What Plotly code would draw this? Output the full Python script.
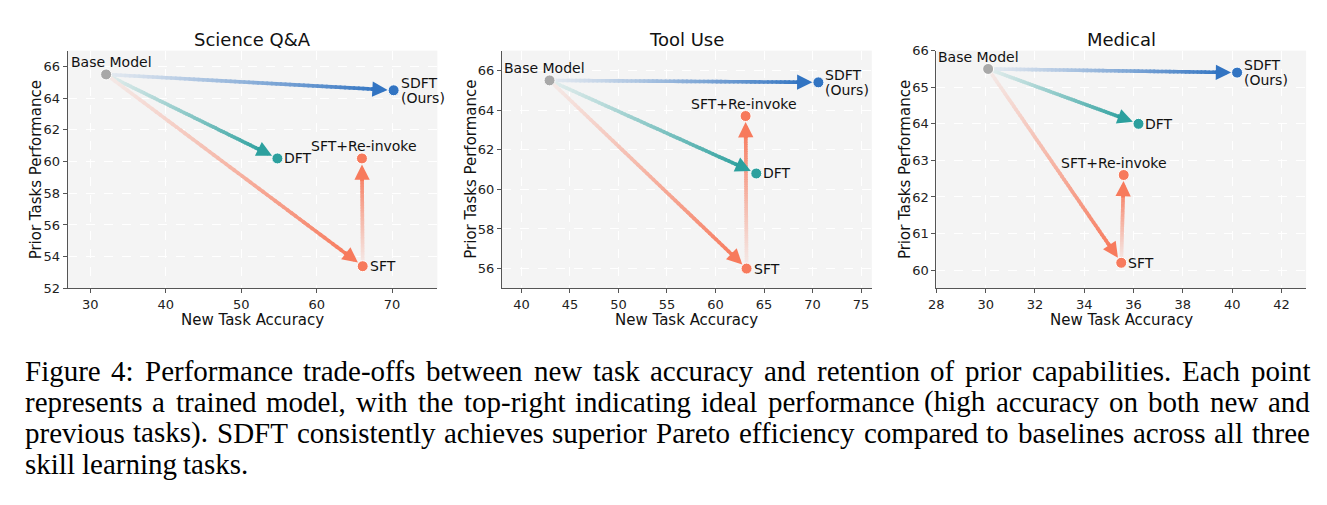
import plotly.graph_objects as go

# ------------------------------------------------------------------ data
panel_titles = ["Science Q&A", "Tool Use", "Medical"]
methods = ["Base Model", "SDFT", "DFT", "SFT", "SFT+Re-invoke"]

sci_new_acc = [32.1, 70.2, 54.8, 66.1, 66.0]
sci_prior = [65.5, 64.5, 60.2, 53.4, 60.2]
tool_new_acc = [42.9, 70.6, 64.2, 63.2, 63.1]
tool_prior = [65.5, 65.4, 60.8, 56.0, 63.7]
med_new_acc = [30.1, 40.2, 36.2, 35.5, 35.6]
med_prior = [65.5, 65.4, 64.0, 60.2, 62.6]

sci_xticks = [30, 40, 50, 60, 70]
sci_yticks = [52, 54, 56, 58, 60, 62, 64, 66]
tool_xticks = [40, 45, 50, 55, 60, 65, 70, 75]
tool_yticks = [56, 58, 60, 62, 64, 66]
med_xticks = [28, 30, 32, 34, 36, 38, 40, 42]
med_yticks = [60, 61, 62, 63, 64, 65, 66]

arrow_pairs = [("Base Model", "SDFT"), ("Base Model", "DFT"),
               ("Base Model", "SFT"), ("SFT", "SFT+Re-invoke")]

x_label = "New Task Accuracy"
y_label = "Prior Tasks Performance"

caption_lines = [
    "Figure 4: Performance trade-offs between new task accuracy and retention of prior capabilities. Each point",
    "represents a trained model, with the top-right indicating ideal performance (high accuracy on both new and",
    "previous tasks). SDFT consistently achieves superior Pareto efficiency compared to baselines across all three",
    "skill learning tasks.",
]

# ------------------------------------------------------------------ styling / geometry
W, H = 1327, 505
BG = "#f4f4f4"
colors = {"Base Model": "#a8a8a8", "SDFT": "#3274c2", "DFT": "#2ca09e",
          "SFT": "#f77a5c", "SFT+Re-invoke": "#f77a5c"}
panel_px = [(60, 432), (497, 869), (934, 1306)]
TOP, BOT = 45, 290
xranges = [(27, 76), (38, 76.1), (28, 43)]
yranges = [(52, 67), (55, 67), (59.5, 66)]
base_dx = [5, -5, -10]
reinv_dx = [2, -2, -10]

panels = [
    (sci_new_acc, sci_prior, sci_xticks, sci_yticks),
    (tool_new_acc, tool_prior, tool_xticks, tool_yticks),
    (med_new_acc, med_prior, med_xticks, med_yticks),
]


def to_px(i, x, y):
    x0, x1 = panel_px[i]
    a, b = xranges[i]
    c, d = yranges[i]
    return (x0 + (x - a) / (b - a) * (x1 - x0),
            BOT - (y - c) / (d - c) * (BOT - TOP))


def to_data(i, px, py):
    x0, x1 = panel_px[i]
    a, b = xranges[i]
    c, d = yranges[i]
    return (a + (px - x0) / (x1 - x0) * (b - a),
            c + (BOT - py) / (BOT - TOP) * (d - c))


def hex_rgb(h):
    h = h.lstrip("#")
    return tuple(int(h[k:k + 2], 16) for k in (0, 2, 4))


def blend(col, alpha):
    c = hex_rgb(col)
    b = hex_rgb(BG)
    r = [round(b[k] * (1 - alpha) + c[k] * alpha) for k in range(3)]
    return "rgb(%d,%d,%d)" % tuple(r)


fig = go.Figure()
annotations = []

for i, (xs, ys, xt, yt) in enumerate(panels):
    n = i + 1
    xr = "x" if n == 1 else f"x{n}"
    yr = "y" if n == 1 else f"y{n}"
    pts = {m: (xs[k], ys[k]) for k, m in enumerate(methods)}

    # gradient arrows
    for (src, dst) in arrow_pairs:
        col = colors[dst]
        ax_, ay_ = to_px(i, *pts[src])
        bx_, by_ = to_px(i, *pts[dst])
        dx, dy = bx_ - ax_, by_ - ay_
        L = (dx * dx + dy * dy) ** 0.5
        ux, uy = dx / L, dy / L
        ex, ey = bx_ - ux * 13, by_ - uy * 13
        N = 60
        for k in range(N):
            t0 = k / N
            t1 = min(1.0, (k + 1.4) / N)
            p0 = to_data(i, ax_ + (ex - ax_) * t0, ay_ + (ey - ay_) * t0)
            p1 = to_data(i, ax_ + (ex - ax_) * t1, ay_ + (ey - ay_) * t1)
            tm = (k + 0.5) / N
            alpha = 0.08 + 0.92 * tm ** 1.1
            fig.add_trace(go.Scatter(
                x=[p0[0], p1[0]], y=[p0[1], p1[1]], mode="lines",
                line=dict(color=blend(col, alpha), width=3.6),
                xaxis=xr, yaxis=yr, hoverinfo="skip", showlegend=False))
        annotations.append(dict(
            x=pts[dst][0], y=pts[dst][1], xref=xr, yref=yr,
            ax=-ux * 24, ay=-uy * 24, axref="pixel", ayref="pixel",
            showarrow=True, arrowhead=2, arrowsize=0.85, arrowwidth=3.6,
            arrowcolor=col, standoff=6, text=""))

    # markers
    fig.add_trace(go.Scatter(
        x=xs, y=ys, mode="markers",
        marker=dict(color=[colors[m] for m in methods], size=11,
                    line=dict(color="white", width=1)),
        xaxis=xr, yaxis=yr, hoverinfo="skip", showlegend=False))

    lab_font = dict(family="DejaVu Sans", size=14, color="#111")
    bx, by = pts["Base Model"]
    annotations.append(dict(x=bx, y=by, xref=xr, yref=yr, text="Base Model",
                            showarrow=False, xanchor="center", yanchor="middle",
                            xshift=base_dx[i], yshift=12, font=lab_font))
    sx, sy = pts["SDFT"]
    annotations.append(dict(x=sx, y=sy, xref=xr, yref=yr, text="SDFT",
                            showarrow=False, xanchor="left", yanchor="middle",
                            xshift=5, yshift=7.5, font=lab_font))
    annotations.append(dict(x=sx, y=sy, xref=xr, yref=yr, text="(Ours)",
                            showarrow=False, xanchor="left", yanchor="middle",
                            xshift=5, yshift=-7.5, font=lab_font))
    for m in ("DFT", "SFT"):
        mx, my = pts[m]
        annotations.append(dict(x=mx, y=my, xref=xr, yref=yr, text=m,
                                showarrow=False, xanchor="left", yanchor="middle",
                                xshift=5, yshift=0, font=lab_font))
    rx, ry = pts["SFT+Re-invoke"]
    annotations.append(dict(x=rx, y=ry, xref=xr, yref=yr, text="SFT+Re-invoke",
                            showarrow=False, xanchor="center", yanchor="middle",
                            xshift=reinv_dx[i], yshift=12, font=lab_font))

    # axes
    x0, x1 = panel_px[i]
    common = dict(showline=True, linecolor="#555", linewidth=1, mirror=False,
                  ticks="outside", ticklen=4, tickwidth=1, tickcolor="#555",
                  showgrid=True, gridcolor="white", griddash="dash", gridwidth=1,
                  zeroline=False,
                  tickfont=dict(family="DejaVu Sans", size=13, color="#222"))
    fig.update_layout(**{
        ("xaxis" if n == 1 else f"xaxis{n}"): dict(
            domain=[x0 / W, x1 / W], range=list(xranges[i]), tickvals=xt,
            anchor=yr, **common),
        ("yaxis" if n == 1 else f"yaxis{n}"): dict(
            domain=[1 - BOT / H, 1 - TOP / H], range=list(yranges[i]),
            tickvals=yt, anchor=xr, **common),
    })

    cx = (x0 + x1) / 2
    annotations.append(dict(x=cx / W, y=1 - 34 / H, xref="paper", yref="paper",
                            text=panel_titles[i], showarrow=False,
                            xanchor="center", yanchor="middle",
                            font=dict(family="DejaVu Sans", size=18, color="#111")))
    annotations.append(dict(x=cx / W, y=1 - 323 / H, xref="paper", yref="paper",
                            text=x_label, showarrow=False,
                            xanchor="center", yanchor="middle",
                            font=dict(family="DejaVu Sans", size=15, color="#111")))
    annotations.append(dict(x=(x0 - 32) / W, y=1 - ((TOP + BOT) / 2) / H,
                            xref="paper", yref="paper", text=y_label,
                            showarrow=False, textangle=-90,
                            xanchor="center", yanchor="middle",
                            font=dict(family="DejaVu Sans", size=15, color="#111")))

# ------------------------------------------------------------------ caption (justified)
times_w = {" ": 250, "!": 333, "(": 333, ")": 333, "+": 564, ",": 250, "-": 333,
           ".": 250, ":": 278}
times_w.update({d: 500 for d in "0123456789"})
times_w.update(dict(zip("ABCDEFGHIJKLMNOPQRSTUVWXYZ",
                        [722, 667, 667, 722, 611, 556, 722, 722, 333, 389, 722, 611, 889,
                         722, 722, 556, 722, 667, 556, 611, 722, 722, 944, 722, 722, 611])))
times_w.update(dict(zip("abcdefghijklmnopqrstuvwxyz",
                        [444, 500, 444, 500, 444, 333, 500, 500, 278, 278, 500, 278, 778,
                         500, 500, 500, 500, 333, 389, 278, 500, 500, 722, 500, 500, 444])))
CS = 29
CL, CR = 16, 1309
line_mid = [375, 407, 439, 471]
for j, line in enumerate(caption_lines):
    words = line.split(" ")
    ws = [sum(times_w.get(ch, 500) for ch in w) * CS / 1000 for w in words]
    if j < len(caption_lines) - 1:
        gap = (CR - CL - sum(ws)) / (len(words) - 1)
    else:
        gap = 250 * CS / 1000
    xpos = CL
    for w, wd in zip(words, ws):
        annotations.append(dict(x=(xpos - 1) / W, y=1 - line_mid[j] / H,
                                xref="paper", yref="paper", text=w,
                                showarrow=False, xanchor="left", yanchor="middle",
                                font=dict(family="Liberation Serif", size=CS,
                                          color="#000")))
        xpos += wd + gap

fig.update_layout(
    width=W, height=H, autosize=False,
    margin=dict(l=0, r=0, t=0, b=0),
    paper_bgcolor="white", plot_bgcolor=BG,
    showlegend=False, annotations=annotations,
)

fig.write_html("out.html")
